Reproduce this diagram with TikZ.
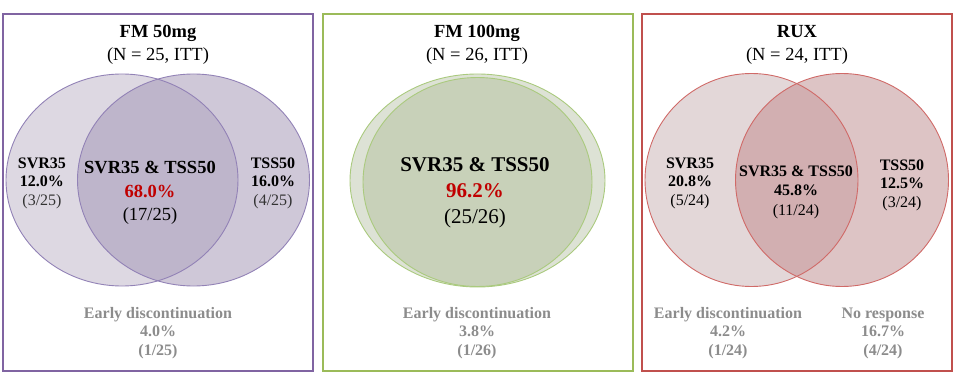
\documentclass[tikz,border=0pt]{standalone}
\usepackage{fontspec}
\setmainfont{Liberation Serif}
\usetikzlibrary{positioning}
\definecolor{fmAedge}{HTML}{8064A2}
\definecolor{fmAline}{HTML}{9282B6}
\definecolor{fmAl}{HTML}{DDD8E2}
\definecolor{fmAr}{HTML}{CFC8D8}
\definecolor{fmAi}{HTML}{BEB5CB}
\definecolor{fmBedge}{HTML}{9BBB59}
\definecolor{fmBline}{HTML}{AACA7E}
\definecolor{fmBback}{HTML}{DDE2D5}
\definecolor{fmBfront}{HTML}{C8D1B9}
\definecolor{ruxedge}{HTML}{C0504D}
\definecolor{ruxline}{HTML}{D06A68}
\definecolor{ruxl}{HTML}{E3D7D8}
\definecolor{ruxr}{HTML}{DDC4C5}
\definecolor{ruxi}{HTML}{D2AFB1}
\definecolor{dropgray}{HTML}{8C8C8C}
\definecolor{pctred}{HTML}{C00000}
\tikzset{
  frame/.style={rectangle,line width=1.6pt,minimum width=310pt,minimum height=357pt,inner sep=0pt},
  venn/.style={line width=0.9pt},
  head/.style={align=center,inner sep=0pt,font=\fontsize{18.5}{23}\selectfont},
  side/.style={align=center,inner sep=0pt,font=\bfseries\fontsize{16}{18.5}\selectfont},
  both/.style={align=center,inner sep=0pt,font=\fontsize{18.5}{23.5}\selectfont},
  drop/.style={align=center,inner sep=0pt,text=dropgray,font=\bfseries\fontsize{16}{18.5}\selectfont},
}

\begin{document}
\begin{tikzpicture}[x=1pt,y=-1pt]
  \useasboundingbox (0,0) rectangle (960,374);
  % panel frames
  \node[frame,draw=fmAedge] (boxA) at (158,192.5) {};
  \node[frame,draw=fmBedge] (boxB) at (478,192.5) {};
  \node[frame,draw=ruxedge] (boxC) at (797,192.5) {};
  % FM 50mg sets
  \fill[fmAl] (122,180) ellipse [x radius=116,y radius=106];
  \fill[fmAr] (193.5,180) ellipse [x radius=116,y radius=106];
  \begin{scope}
    \clip (122,180) ellipse [x radius=116,y radius=106];
    \fill[fmAi] (193.5,180) ellipse [x radius=116,y radius=106];
  \end{scope}
  \draw[venn,draw=fmAline] (122,180) ellipse [x radius=116,y radius=106];
  \draw[venn,draw=fmAline] (193.5,180) ellipse [x radius=116,y radius=106];
  % FM 100mg sets
  \fill[fmBback,draw=fmBline,venn] (477.5,180.5) ellipse [x radius=127.5,y radius=106.5];
  \fill[fmBfront,draw=fmBline,venn] (477.5,182) ellipse [x radius=114.5,y radius=104.5];
  % RUX sets
  \fill[ruxl] (751.5,180) circle [radius=106.5];
  \fill[ruxr] (842,180) circle [radius=106.5];
  \begin{scope}
    \clip (751.5,180) circle [radius=106.5];
    \fill[ruxi] (842,180) circle [radius=106.5];
  \end{scope}
  \draw[venn,draw=ruxline] (751.5,180) circle [radius=106.5];
  \draw[venn,draw=ruxline] (842,180) circle [radius=106.5];
  % titles
  \node[head] (tA) at (158,45) {\textbf{FM 50mg}\\(N = 25, ITT)};
  \node[head] (tB) at (477,45) {\textbf{FM 100mg}\\(N = 26, ITT)};
  \node[head] (tC) at (797,45) {\textbf{RUX}\\(N = 24, ITT)};
  % FM 50mg labels
  \node[side] (svrA) at (42,183) {SVR35\\12.0\%\\\mdseries\color{black!80}(3/25)};
  \node[both] (bothA) at (150,193) {\textbf{SVR35 \& TSS50}\\\textbf{\color{pctred}68.0\%}\\(17/25)};
  \node[side] (tssA) at (273,183) {TSS50\\16.0\%\\\mdseries\color{black!80}(4/25)};
  \node[drop] (dropA) at (158,333) {Early discontinuation\\4.0\%\\(1/25)};
  % FM 100mg labels
  \node[both,font=\fontsize{21}{26}\selectfont] (bothB) at (475,193) {\textbf{SVR35 \& TSS50}\\\textbf{\color{pctred}96.2\%}\\(25/26)};
  \node[drop] (dropB) at (477,333) {Early discontinuation\\3.8\%\\(1/26)};
  % RUX labels
  \node[side] (svrC) at (690,183) {SVR35\\20.8\%\\\mdseries(5/24)};
  \node[side,font=\bfseries\fontsize{16}{19.5}\selectfont] (bothC) at (796,192) {SVR35 \& TSS50\\45.8\%\\\mdseries(11/24)};
  \node[side] (tssC) at (902,185) {TSS50\\12.5\%\\\mdseries(3/24)};
  \node[drop] (dropC) at (728,333) {Early discontinuation\\4.2\%\\(1/24)};
  \node[drop] (noC) at (883,333) {No response\\16.7\%\\(4/24)};
\end{tikzpicture}
\end{document}
